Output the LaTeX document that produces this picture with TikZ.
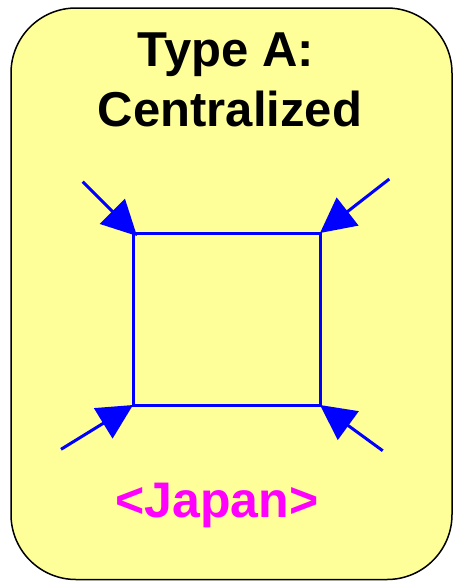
\documentclass[tikz,border=0pt]{standalone}
\usepackage{fontspec}
\setmainfont{Liberation Sans}
\usetikzlibrary{arrows.meta}
\definecolor{boxyellow}{HTML}{FFFF99}
\definecolor{sqblue}{HTML}{0000FF}
\definecolor{labelmag}{HTML}{FF00FF}
\tikzset{
  panel/.style={draw=black, line width=1.5pt, fill=boxyellow, rounded corners=65pt},
  square/.style={draw=sqblue, line width=3pt},
  inarrow/.style={draw=sqblue, line width=3pt, -{Triangle[length=35pt,width=35pt]}},
  title/.style={font=\fontsize{49}{56}\selectfont\bfseries, text=black, anchor=base, inner sep=0pt},
  country/.style={font=\fontsize{50}{56}\selectfont\bfseries, text=labelmag, anchor=base, inner sep=0pt}
}
\begin{document}
\begin{tikzpicture}[x=1pt,y=1pt]
\useasboundingbox (0,0) rectangle (453,-581);
\fill[white] (0,0) rectangle (453,-581);
\draw[panel] (11,-8) rectangle (452,-579.5);
\node[title] (t1) at (226,-66.7) {Type A:};
\node[title] (t2) at (230,-126) {Centralized};
\node[country] (jp) at (217,-517.7) {<Japan>};
\coordinate (tl) at (133,-233);
\coordinate (tr) at (320,-233);
\coordinate (bl) at (133,-405);
\coordinate (br) at (320,-405);
\coordinate (tltip) at (137,-236);
\draw[square] (tl) -- (tr) -- (br) -- (bl) -- cycle;
\coordinate (s1) at (82.7,-181.7);
\coordinate (s2) at (389.3,-179);
\coordinate (s3) at (61,-449.3);
\coordinate (s4) at (382.7,-450.7);
\draw[inarrow] (s1) -- (tltip);
\draw[inarrow] (s2) -- (tr);
\draw[inarrow] (s3) -- (bl);
\draw[inarrow] (s4) -- (br);
\end{tikzpicture}
\end{document}
